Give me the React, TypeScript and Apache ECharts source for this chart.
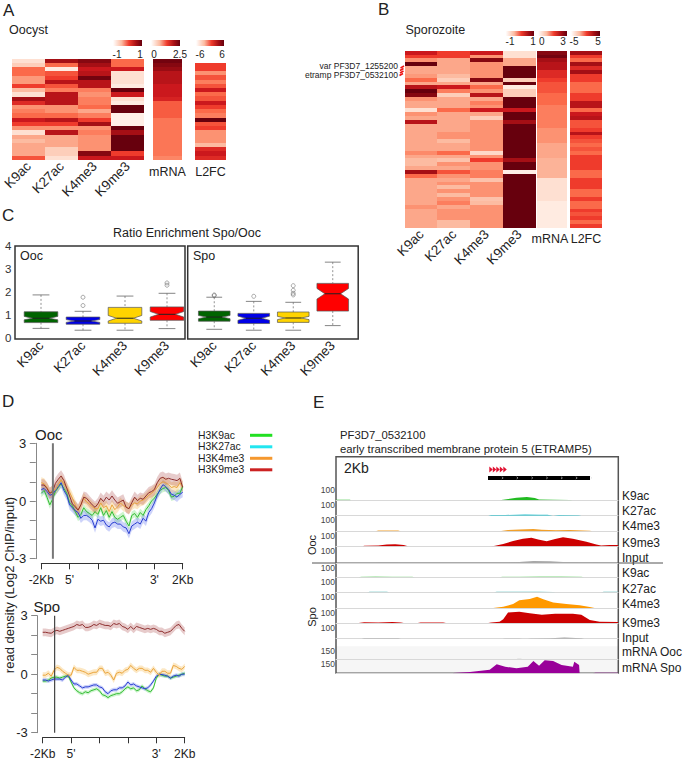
import React, { useEffect, useRef } from "react";
import * as echarts from "echarts";

const FONT = "Liberation Sans";
const REDS = ["#fff5f0", "#fee0d2", "#fcbba1", "#fc9272", "#fb6a4a", "#ef3b2c", "#cb181d", "#a50f15", "#67000d"];
const MARKS = ["K9ac", "K27ac", "K4me3", "K9me3"];

// Panel A heat values (0 pale .. 8 dark)
const aK9ac = [1, 1.5, 4, 4, 2.8, 2.8, 5, 2, 1, 7, 5.5, 3, 3.5, 4, 6, 5, 3, 1, 2.5, 2, 2.5, 2.5, 2.5, 4.5];
const aK27ac = [7, 4, 0.5, 4.5, 5, 6.5, 4.5, 3.5, 6.5, 6.5, 6.5, 3, 3, 4, 6.5, 5, 3, 6.5, 2.5, 2.5, 2.5, 1.5, 1.5, 1];
const aK4me3 = [7.5, 7, 6, 6.5, 7.8, 6.5, 6.5, 3.5, 3, 3.5, 3.5, 4, 2.5, 3.5, 5, 7, 3, 3.5, 3, 3, 3, 3, 7.5, 6];
const aK9me3 = [4, 4, 6, 1, 1, 1, 0.5, 8, 6, 1, 0.5, 8, 8, 0.3, 0.3, 0.3, 8, 7, 8, 8, 8, 8, 5, 6];
const aMrna = [7.8, 7.5, 7.2, 6.5, 6.5, 6.5, 6, 6, 6, 5.7, 4.3, 4.3, 4.3, 4.3, 3.7, 3.7, 3.7, 3.7, 3.7, 3.7, 3.7, 3.7, 3.7, 3.3];
const aL2fc = [5, 5, 3, 4.5, 3.5, 4.5, 6, 4, 4.5, 6, 5, 4, 3.5, 8, 4.5, 5, 3, 3, 3, 2, 5.5, 6, 5.5];

// Panel B heat values
const bK9ac = [6, 5, 3, 8, 2.5, 2.5, 2.8, 4, 2.5, 6.5, 8, 7.5, 3, 2.5, 2.5, 1, 3, 2.5, 6.5, 2.5, 2.5, 2.5, 2.5, 2.5, 2.5, 2.5, 3.2, 2.5, 2, 2, 2.5, 7, 4, 2.5, 2.5, 2.5, 2.5, 2.5, 2.5, 2.5, 3, 2.5, 2.5, 2.5, 2.5, 2.5];
const bK27ac = [5, 5, 2.5, 2.5, 2.5, 2.5, 2, 1.5, 2.5, 6, 3.5, 1.5, 2.5, 2.5, 2.5, 4, 2.5, 2.5, 2.5, 2.5, 2.5, 3, 3, 2, 2.5, 2.5, 4, 2.5, 1.8, 3, 2.5, 4.5, 3, 2.5, 3, 2, 3, 2, 3, 3.5, 2.5, 3, 3, 3, 2, 2];
const bK4me3 = [6, 3, 7.5, 3, 3, 3, 3, 7.5, 2.5, 4, 3, 6.5, 2.5, 3.5, 3, 6, 2.5, 1.5, 3, 3, 3, 3, 3, 3, 3, 3, 1.2, 3, 5, 3, 3, 3.5, 3.5, 1.8, 3, 3, 3, 3, 1.8, 2, 3, 3, 3, 3, 3, 3];
const bK9me3 = [1, 1, 2.5, 2.5, 8, 8, 8, 1.5, 8, 0.5, 1.5, 1.5, 8, 8, 8, 6, 8, 8, 7, 8, 8, 8, 8, 8, 8, 8, 8, 8, 7, 8, 8, 0.3, 8, 8, 8, 8, 8, 8, 8, 8, 8, 8, 8, 8, 8, 8];
const bMrna = [7.5, 7.8, 7, 6.5, 6.5, 5.5, 5.5, 5, 4.5, 4.5, 4.5, 4, 4, 4, 3.5, 3.5, 3.5, 3.5, 3.5, 3.5, 3, 3, 3, 3, 2.5, 2.5, 2.5, 2.5, 2.2, 2.2, 2.2, 2.2, 2.2, 1, 1, 1, 1, 1, 1, 0.5, 0.5, 0.5, 0.5, 0.5, 0.5, 0.5];
const bL2fc = [7, 5, 4, 7, 5.5, 7, 5, 5, 4, 4, 4, 5, 5, 6.5, 6.5, 4, 6, 6.5, 4.5, 4.5, 5, 6.5, 5, 4.5, 4, 4.5, 4, 5, 5, 5, 5, 4, 4, 5, 5, 5, 4, 4, 5, 4, 4, 5, 4.5, 5, 4, 5];

// Panel C: [whisker low, q1, median, q3, whisker high, notch low, notch high]
const boxColors = ["#006400", "#0000e6", "#ffd400", "#ff0000"];
const oocBoxes = [
  [0.43, 0.68, 0.87, 1.15, 1.88, 0.8, 0.95],
  [0.35, 0.61, 0.75, 0.92, 1.17, 0.69, 0.81],
  [0.35, 0.65, 0.87, 1.34, 1.83, 0.75, 0.99],
  [0.42, 0.78, 1.04, 1.36, 1.95, 0.92, 1.16],
];
const spoBoxes = [
  [0.39, 0.74, 0.92, 1.18, 1.78, 0.85, 0.99],
  [0.35, 0.64, 0.87, 1.08, 1.6, 0.78, 0.96],
  [0.35, 0.69, 0.88, 1.14, 1.56, 0.81, 0.95],
  [0.55, 1.18, 1.93, 2.38, 3.3, 1.7, 2.16],
];
const oocOutliers = [[1, 1.42], [1, 1.78], [3, 2.3], [3, 2.4]];
const spoOutliers = [[0, 1.85], [0, 1.88], [1, 1.82], [2, 1.88], [2, 1.95], [2, 2.08], [2, 2.28]];

// Panel D metaprofiles
const oocRed = [0.83, 0.83, 0.66, 0.4, 0.49, 0.92, 1.13, 1.3, 1.06, 0.66, 0.26, -0.15, -0.3, -0.47, -0.2, 0.2, 0.14, -0.03, -0.2, -0.33, -0.15, 0.14, -0.03, 0.2, 0.05, 0.26, 0.05, -0.12, -0.03, 0.05, -0.33, -0.4, -0.09, 0.2, 0.02, 0.14, 0.09, 0.26, 0.43, 0.49, 0.6, 0.95, 1.18, 1.23, 1.13, 1.18, 1.13, 1.1, 1.06, 1.18, 0.71];
const oocOrange = [0.95, 0.9, 0.7, 0.4, 0.55, 0.6, 0.85, 1.1, 0.9, 0.7, 0.45, 0.15, -0.2, -0.5, -0.2, 0.15, -0.05, -0.15, -0.3, -0.4, -0.4, -0.1, -0.35, -0.25, -0.55, -0.2, -0.45, -0.3, -0.1, -0.25, -0.3, -0.4, -0.2, -0.1, -0.15, 0, 0.05, 0.15, 0.3, 0.4, 0.55, 0.7, 0.9, 1.0, 0.95, 0.85, 0.7, 0.75, 0.7, 0.95, 0.75];
const oocGreen = [0.4, 0.55, 0.2, -0.2, 0.1, 0.5, 0.7, 0.9, 0.65, 0.4, -0.1, -0.25, -0.55, -0.85, -0.7, -0.35, -0.55, -0.65, -0.75, -0.55, -0.7, -0.35, -0.75, -0.5, -0.85, -0.55, -0.85, -0.95, -0.85, -0.75, -1.05, -1.3, -0.75, -0.65, -0.85, -0.6, -0.75, -0.45, -0.25, 0, 0.15, 0.35, 0.55, 0.65, 0.7, 0.55, 0.2, 0.25, 0.4, 0.4, 0.75];
const oocBlue = [0.6, 0.65, 0.5, 0.3, 0.35, 0.55, 0.75, 0.95, 0.55, 0.3, -0.2, -0.35, -0.5, -0.6, -0.9, -0.75, -0.75, -0.85, -1.0, -1.4, -0.95, -1.05, -1.0, -1.25, -1.35, -1.15, -1.1, -1.2, -1.2, -1.35, -1.4, -1.7, -1.3, -1.2, -1.1, -1.2, -0.9, -1.05, -0.6, -0.4, -0.1, 0.3, 0.6, 0.85, 0.75, 0.6, 0.35, 0.3, 0.2, 0.35, 0.45];
const spoRed = [2.15, 2.15, 2.12, 2.1, 2.2, 2.25, 2.2, 2.25, 2.3, 2.35, 2.4, 2.45, 2.55, 2.5, 2.55, 2.4, 2.4, 2.45, 2.55, 2.5, 2.6, 2.55, 2.5, 2.5, 2.45, 2.6, 2.55, 2.6, 2.45, 2.4, 2.3, 2.45, 2.3, 2.45, 2.4, 2.35, 2.3, 2.35, 2.3, 2.35, 2.3, 2.2, 2.2, 2.1, 2.15, 2.2, 2.35, 2.5, 2.55, 2.35, 2.2];
const spoOrange = [-0.05, -0.05, 0.05, -0.1, 0.2, 0.35, 0.3, 0.15, 0.05, -0.05, -0.05, 0.35, 0.2, 0.2, 0.15, 0.1, 0, 0.05, 0.1, 0.1, 0.3, 0.3, 0.05, 0.1, -0.05, -0.3, 0.05, 0.1, 0.05, 0.2, 0.25, 0.45, 0.3, 0.2, 0.3, 0.3, 0.2, 0.2, 0.1, 0.3, 0.1, -0.05, 0.15, 0.15, 0.05, 0.05, 0.45, 0.4, 0.3, 0.25, 0.4];
const spoBlue = [-0.3, -0.3, -0.35, -0.3, -0.25, -0.25, -0.25, -0.3, -0.15, -0.05, -0.3, -0.5, -0.5, -0.6, -0.7, -0.65, -0.65, -0.6, -0.55, -0.55, -0.65, -0.7, -0.9, -1.0, -0.85, -0.8, -0.8, -0.7, -0.7, -0.6, -0.4, -0.55, -0.5, -0.6, -0.65, -0.7, -0.75, -0.7, -0.55, -0.35, -0.1, 0, -0.02, -0.05, -0.1, -0.2, -0.1, -0.05, -0.1, 0, 0];
const spoGreen = [-0.35, -0.35, -0.3, -0.2, -0.15, -0.15, -0.2, -0.15, -0.1, -0.1, -0.4, -0.7, -0.85, -0.95, -1.0, -0.9, -0.95, -0.85, -0.8, -0.75, -0.85, -1.05, -1.1, -1.2, -1.1, -1.05, -1.0, -1.0, -0.9, -0.75, -0.65, -0.75, -0.7, -0.85, -0.8, -0.6, -0.75, -0.85, -0.9, -0.7, -0.2, 0, -0.05, -0.1, -0.1, -0.2, -0.15, -0.1, -0.05, 0, 0.05];
const xTickLabels = ["-2Kb", "5'", "", "", "3'", "2Kb"];
const legendNames = ["H3K9ac", "H3K27ac", "H3K4me3", "H3K9me3"];
const legendColors = ["#22e022", "#22e6f0", "#f5982e", "#cc2222"];

// Panel E browser tracks: [genome position %, signal]
const ookK9ac = [[0, 3], [5, 3], [5.2, 0], [58, 0], [60.5, 8], [64, 18], [67.7, 22], [70.5, 15], [72, 5], [77, 4], [83, 2], [84, 0]];
const ookK27ac = [[54, 0], [55, 5], [60, 5], [64, 6], [67, 8], [72, 6], [75, 6], [77, 0], [79, 4], [86, 3], [87, 0]];
const ookK4me3 = [[14, 0], [15, 5], [22, 5], [23, 0], [58, 0], [61, 8], [65, 11], [70, 14], [73, 10], [78, 7], [83, 8], [90, 4], [91, 0]];
const ookK9me3 = [[9.5, 0], [10, 3], [15, 5], [18, 12], [21, 13], [24, 8], [25.5, 0], [54.5, 0], [56, 2], [59.3, 15], [62.8, 35], [66.3, 50], [69.3, 57], [71.7, 46], [74.7, 33], [77.7, 48], [80.5, 60], [84, 50], [88.8, 30], [92.3, 12], [94, 6], [97, 9], [100, 8]];
const ookInput = [[14, 0], [15, 4], [22, 4], [23, 0], [61, 0], [66, 7], [70, 12], [76, 11], [82, 5], [90, 3], [97, 2], [98, 0]];
const spoK9ac = [[8, 0], [9, 4], [14, 6], [20, 4], [27, 4], [28, 0], [58, 0], [59, 4], [65, 4], [72, 6], [80, 6], [87, 3], [88, 0]];
const spoK27ac = [[11, 0], [12, 3], [18, 3], [19, 0], [56, 0], [57, 3], [66, 4], [72, 3], [77, 2], [78, 0], [94, 0], [95, 3], [100, 3]];
const spoK4me3 = [[55.7, 0], [59.3, 8], [62.8, 25], [65, 50], [68.7, 58], [71.3, 72], [73.5, 55], [77, 35], [81.7, 25], [86.4, 18], [90, 6], [91.7, 0]];
const spoK9me3 = [[8, 0], [10, 5], [15, 4], [20, 6], [23, 3], [24, 0], [29, 0], [30, 4], [38, 4], [39, 0], [54, 0], [55, 3], [58, 8], [59.3, 25], [61, 70], [65, 75], [68.7, 65], [73, 55], [77.7, 62], [84, 62], [87, 55], [90, 20], [93.5, 8], [100, 6]];
const spoInput = [[9, 0], [10, 3], [15, 3], [22, 3], [23, 0], [59, 0], [60, 2], [65, 2], [66, 0], [68, 0], [69, 2], [76, 3], [81, 8], [87, 3], [88, 0]];
const mrnaOoc = [[64, 0], [64.5, 3], [65.5, 3], [66, 0]];
const mrnaSpo = [[41.5, 3], [47.5, 14], [54.5, 38], [57, 95], [60, 69], [64, 52], [68, 69], [70, 130], [72, 80], [74, 138], [77, 128], [80, 87], [84, 69], [84.5, 120], [86.2, 87], [86.4, 0], [91, 0], [92, 6], [100, 6]];

const trackNames = ["K9ac", "K27ac", "K4me3", "K9me3", "Input", "K9ac", "K27ac", "K4me3", "K9me3", "Input", "mRNA Ooc", "mRNA Spo"];
const trackSeries = [ookK9ac, ookK27ac, ookK4me3, ookK9me3, ookInput, spoK9ac, spoK27ac, spoK4me3, spoK9me3, spoInput, mrnaOoc, mrnaSpo];
const trackColors = ["#22bb22", "#22bfcc", "#f2a02a", "#cc0000", "#a8a8a8", "#7fd87f", "#44b8b8", "#ff9900", "#cc0000", "#a0a0a0", "#c0c0c0", "#990099"];
const trackMax = [100, 100, 100, 100, 100, 100, 100, 100, 100, 100, 150, 150];
const trackEdges = [485.7, 500.3, 515.7, 531.3, 546.3, 563, 577.3, 592.3, 608, 623, 638.7, 659, 673.3];
const trackLabelY = [496, 510.7, 525.7, 543, 557.7, 572.7, 589.3, 604.3, 623.3, 637.7, 652.3, 667.7];

function buildOption() {
  const grid: any[] = [], xAxis: any[] = [], yAxis: any[] = [], series: any[] = [], graphic: any[] = [];
  const heatIdx: number[] = [];

  const text = (s: string, x: number, y: number, size: number, o: any = {}) =>
    graphic.push({
      type: "text", x, y, rotation: o.rotation || 0, silent: true,
      style: { text: s, fontSize: size, fontFamily: FONT, fill: o.fill || "#222", align: o.align || "left", verticalAlign: "middle" },
    });

  const addGrid = (left: number, top: number, width: number, height: number, extra: any = {}) => {
    grid.push({ left, top, width, height, containLabel: false, ...extra });
    return grid.length - 1;
  };

  const heat = (left: number, top: number, width: number, height: number, cols: string[], values: number[][], rotate: number, margin: number, padding: number[] = [0, 0, 0, 0]) => {
    const g = addGrid(left, top, width, height);
    xAxis.push({
      type: "category", gridIndex: g, data: cols, position: "bottom",
      axisLine: { show: false }, axisTick: { show: false },
      axisLabel: { rotate, margin, padding, fontSize: rotate ? 13.5 : 12.5, color: "#222", interval: 0, fontFamily: FONT },
    });
    yAxis.push({ type: "category", gridIndex: g, inverse: true, show: false, data: values[0].map((_, i) => String(i)) });
    const data: number[][] = [];
    values.forEach((col, c) => col.forEach((v, r) => data.push([c, r, v])));
    heatIdx.push(series.length);
    series.push({ type: "heatmap", xAxisIndex: g, yAxisIndex: g, data, itemStyle: { borderWidth: 0 }, silent: true });
  };

  const gradient = (x: number, y: number, w: number, h: number) =>
    graphic.push({
      type: "rect", silent: true, shape: { x, y, width: w, height: h },
      style: {
        fill: {
          type: "linear", x: 0, y: 0, x2: 1, y2: 0,
          colorStops: [
            { offset: 0, color: "#ffffff" }, { offset: 0.3, color: "#fcbba1" }, { offset: 0.55, color: "#ef3b2c" },
            { offset: 0.8, color: "#a50f15" }, { offset: 1, color: "#67000d" },
          ],
        },
      },
    });

  // --- A
  text("A", 3, 10, 17); text("Oocyst", 9, 30, 12.5);
  heat(11, 59, 133, 101, MARKS, [aK9ac, aK27ac, aK4me3, aK9me3], 45, 4);
  heat(153, 59, 29, 101, ["mRNA"], [aMrna], 0, 5);
  heat(195.5, 63, 30, 97, ["L2FC"], [aL2fc], 0, 5);
  gradient(113, 40, 29, 6); gradient(151, 40, 29, 6); gradient(196, 40, 28, 6);
  [["-1", 117], ["1", 140], ["0", 154], ["2.5", 180], ["-6", 200], ["6", 222]].forEach(([s, x]) => text(s as string, x as number, 54, 10, { align: "center" }));

  // --- B
  text("B", 378, 9, 17); text("Sporozoite", 405.5, 30, 12.5);
  heat(405, 51, 130.7, 177, MARKS, [bK9ac, bK27ac, bK4me3, bK9me3], 45, 4);
  heat(537.7, 51, 29.5, 177, ["mRNA"], [bMrna], 0, 4, [0, 5, 0, 0]);
  heat(570, 51, 32, 177, ["L2FC"], [bL2fc], 0, 4);
  gradient(505.7, 30.5, 28.5, 5.5); gradient(538, 30.5, 29, 5.5); gradient(571, 30.5, 28.5, 5.5);
  [["-1", 510], ["1", 533], ["0", 541.7], ["3", 563], ["-5", 574], ["5", 598]].forEach(([s, x]) => text(s as string, x as number, 41, 10, { align: "center" }));
  text("var PF3D7_1255200", 398, 65.7, 8.5, { align: "right" });
  text("etramp PF3D7_0532100", 398, 75, 8.5, { align: "right" });
  [[67, 400.5], [69.5, 400], [72, 400], [74.5, 399.5]].forEach(([y, x]) =>
    graphic.push({ type: "line", silent: true, shape: { x1: x, y1: y + 1, x2: x + 3.5, y2: y - 1 }, style: { stroke: "#ee1111", lineWidth: 1.5 } }));

  // --- C
  text("C", 2, 215, 17);
  text("Ratio Enrichment Spo/Ooc", 187, 233, 12.5, { align: "center" });
  const boxPanel = (left: number, width: number, name: string, boxes: number[][], outliers: number[][], showY: boolean) => {
    const g = addGrid(left, 246, width, 92.3);
    xAxis.push({
      type: "category", gridIndex: g, data: MARKS,
      axisLine: { show: false }, axisTick: { show: false },
      axisLabel: { rotate: 45, margin: 5, fontSize: 13.5, color: "#222", interval: 0, fontFamily: FONT },
    });
    yAxis.push({
      type: "value", gridIndex: g, min: 0, max: 4, interval: 1, show: showY,
      splitLine: { show: false }, axisLine: { show: false }, axisTick: { show: false },
      axisLabel: { margin: 8.5, fontSize: 11.5, color: "#333", fontFamily: FONT, verticalAlign: "middle" },
    });
    series.push({
      type: "custom", xAxisIndex: g, yAxisIndex: g, silent: true,
      data: boxes.map((b, i) => [i, ...b]),
      encode: { x: 0, y: [1, 2, 3, 4, 5] },
      renderItem: (_: any, api: any) => {
        const i = api.value(0);
        const lo = api.coord([i, api.value(1)]), q1 = api.coord([i, api.value(2)]), md = api.coord([i, api.value(3)]);
        const q3 = api.coord([i, api.value(4)]), hi = api.coord([i, api.value(5)]);
        const nl = api.coord([i, api.value(6)]), nh = api.coord([i, api.value(7)]);
        const w = api.size([1, 0])[0] * 0.4, inner = w * 0.5, cap = w * 0.5;
        const x = md[0];
        const edge = { stroke: "#555", lineWidth: 0.7 };
        const wh = { stroke: "#666", lineWidth: 0.7, lineDash: [2, 2] };
        const capSt = { stroke: "#666", lineWidth: 0.8 };
        return {
          type: "group",
          children: [
            { type: "line", shape: { x1: x, y1: hi[1], x2: x, y2: q3[1] }, style: wh },
            { type: "line", shape: { x1: x, y1: q1[1], x2: x, y2: lo[1] }, style: wh },
            { type: "line", shape: { x1: x - cap, y1: hi[1], x2: x + cap, y2: hi[1] }, style: capSt },
            { type: "line", shape: { x1: x - cap, y1: lo[1], x2: x + cap, y2: lo[1] }, style: capSt },
            {
              type: "polygon",
              shape: { points: [[x - w, q3[1]], [x + w, q3[1]], [x + w, nh[1]], [x + inner, md[1]], [x + w, nl[1]], [x + w, q1[1]], [x - w, q1[1]], [x - w, nl[1]], [x - inner, md[1]], [x - w, nh[1]]] },
              style: { fill: boxColors[i], ...edge },
            },
            { type: "line", shape: { x1: x - inner, y1: md[1], x2: x + inner, y2: md[1] }, style: { stroke: "#222", lineWidth: 1 } },
          ],
        };
      },
    });
    series.push({
      type: "scatter", xAxisIndex: g, yAxisIndex: g, silent: true, symbolSize: 4, data: outliers,
      itemStyle: { color: "rgba(255,255,255,0)", borderColor: "#666", borderWidth: 0.7 },
    });
    return name;
  };
  boxPanel(20, 168, "Ooc", oocBoxes, oocOutliers, true);
  boxPanel(194.5, 158, "Spo", spoBoxes, spoOutliers, false);
  graphic.push({ type: "rect", silent: true, shape: { x: 15, y: 246, width: 170, height: 93 }, style: { fill: "none", stroke: "#333", lineWidth: 1.5 } });
  graphic.push({ type: "rect", silent: true, shape: { x: 187.7, y: 246, width: 170.5, height: 93 }, style: { fill: "none", stroke: "#333", lineWidth: 1.5 } });
  text("Ooc", 20, 256, 12.5); text("Spo", 193, 256, 12.5);

  // --- D
  text("D", 2, 401, 17);
  text("read density (Log2 ChIP/input)", 9, 585, 13, { rotation: Math.PI / 2, align: "center" });
  const profile = (left: number, top: number, width: number, height: number, lines: { v: number[]; c: string; b: string; w: number }[], vx: number, vCol: string, vW: number) => {
    const g = addGrid(left, top, width, height);
    xAxis.push({
      type: "value", gridIndex: g, min: 0, max: 50, interval: 10, offset: 4.6,
      splitLine: { show: false }, axisLine: { onZero: false, lineStyle: { color: "#333", width: 1 } },
      axisTick: { length: 6, inside: false, lineStyle: { color: "#333" } },
      axisLabel: { margin: 11, fontSize: 12, color: "#222", fontFamily: FONT, formatter: (v: number) => xTickLabels[v / 10] ?? "" },
    });
    yAxis.push({
      type: "value", gridIndex: g, min: -3, max: 3, interval: 1, offset: 5.5,
      splitLine: { show: false }, axisLine: { show: true, onZero: false, lineStyle: { color: "#888" } },
      axisTick: { length: 6, lineStyle: { color: "#888" } },
      axisLabel: { margin: 9.5, fontSize: 13, color: "#222", fontFamily: FONT, formatter: (v: number) => (v === 3 || v === 0 || v === -3 ? String(v) : "") },
    });
    lines.forEach((l) => {
      series.push({
        type: "custom", xAxisIndex: g, yAxisIndex: g, silent: true, data: [[0, 0]],
        renderItem: (_: any, api: any) => {
          const up = l.v.map((y, i) => api.coord([i, y + l.w]));
          const dn = l.v.map((y, i) => api.coord([i, y - l.w])).reverse();
          return { type: "polygon", shape: { points: [...up, ...dn] }, style: { fill: l.b } };
        },
      });
    });
    lines.forEach((l) => {
      series.push({
        type: "line", xAxisIndex: g, yAxisIndex: g, silent: true, showSymbol: false,
        data: l.v.map((y, i) => [i, y]), lineStyle: { color: l.c, width: 1 },
      });
    });
    series.push({
      type: "line", xAxisIndex: g, yAxisIndex: g, silent: true, showSymbol: false,
      data: [[vx, -3], [vx, 3]], lineStyle: { color: vCol, width: vW },
    });
  };
  const C_RED = "#8e2f2f", C_OR = "#e9a43c", C_GR = "#33bb33", C_BL = "#2a3fd0";
  const B_RED = "rgba(170,70,70,0.28)", B_OR = "rgba(245,190,90,0.35)", B_GR = "rgba(90,220,90,0.3)", B_BL = "rgba(90,110,240,0.3)";
  profile(41.3, 443.3, 141.4, 115.4, [
    { v: oocGreen, c: C_GR, b: B_GR, w: 0.2 },
    { v: oocBlue, c: C_BL, b: B_BL, w: 0.25 },
    { v: oocOrange, c: C_OR, b: B_OR, w: 0.28 },
    { v: oocRed, c: C_RED, b: B_RED, w: 0.3 },
  ], 4.1, "#777", 2);
  profile(42.7, 615.7, 142, 117, [
    { v: spoGreen, c: C_GR, b: B_GR, w: 0.1 },
    { v: spoBlue, c: C_BL, b: B_BL, w: 0.1 },
    { v: spoOrange, c: C_OR, b: B_OR, w: 0.15 },
    { v: spoRed, c: C_RED, b: B_RED, w: 0.2 },
  ], 4.2, "#444", 1.2);
  text("Ooc", 35, 434.5, 15); text("Spo", 33.5, 606.5, 15);
  legendNames.forEach((n, i) => {
    const y = 435.3 + i * 11.5;
    text(n, 198, y, 10.4);
    graphic.push({ type: "line", silent: true, shape: { x1: 250, y1: y, x2: 272.3, y2: y }, style: { stroke: legendColors[i], lineWidth: 3 } });
  });

  // --- E
  text("E", 313, 402, 17);
  text("PF3D7_0532100", 340, 435, 11.3);
  text("early transcribed membrane protein 5 (ETRAMP5)", 340, 449, 11.3);
  text("2Kb", 344, 468, 14);
  trackSeries.forEach((d, i) => {
    const isRna = i >= 10;
    const top = i === 10 ? 646.3 : trackEdges[i];
    const g = addGrid(336, top, 282, trackEdges[i + 1] - top, isRna ? { show: true, backgroundColor: "#f6f6f6", borderWidth: 0 } : {});
    xAxis.push({
      type: "value", gridIndex: g, min: 0, max: 100,
      splitLine: { show: false }, axisTick: { show: false }, axisLabel: { show: false },
      axisLine: { show: true, lineStyle: { color: "#d8d8d8", width: 1 } },
    });
    yAxis.push({
      type: "value", gridIndex: g, min: 0, max: trackMax[i], interval: trackMax[i], splitLine: { show: false },
      axisLine: { show: false }, axisTick: { show: false },
      axisLabel: {
        showMinLabel: false, margin: 1, fontSize: 8.5, color: "#444", fontFamily: FONT, verticalAlign: "top",
        formatter: (v: number) => (v === trackMax[i] ? String(v) : ""),
      },
    });
    series.push({
      type: "line", xAxisIndex: g, yAxisIndex: g, silent: true, showSymbol: false, data: d,
      lineStyle: { width: 0, color: trackColors[i] }, itemStyle: { color: trackColors[i] },
      areaStyle: { color: trackColors[i], opacity: 1 },
    });
    text(trackNames[i], 622, trackLabelY[i], 12);
  });
  graphic.push({ type: "rect", silent: true, shape: { x: 336, y: 456.7, width: 282.3, height: 216.6 }, style: { fill: "none", stroke: "#555", lineWidth: 1.5 } });
  graphic.push({ type: "line", silent: true, shape: { x1: 312, y1: 563, x2: 663, y2: 563 }, style: { stroke: "#555", lineWidth: 1 } });
  text("Ooc", 311.5, 545, 11, { rotation: Math.PI / 2, align: "center" });
  text("Spo", 311.5, 617, 11, { rotation: Math.PI / 2, align: "center" });
  // gene model
  graphic.push({ type: "rect", silent: true, shape: { x: 487.7, y: 475.7, width: 102.3, height: 4.4 }, style: { fill: "#000" } });
  [1, 2, 3, 4, 5, 6, 7].forEach((k) => {
    const x = 487.7 + k * 14.8;
    graphic.push({ type: "polyline", silent: true, shape: { points: [[x - 0.7, 476.8], [x + 0.7, 477.9], [x - 0.7, 479]] }, style: { stroke: "#ddd", fill: "none", lineWidth: 0.6 } });
  });
  [0, 1, 2, 3, 4].forEach((k) => {
    const x = 489.3 + k * 3.5;
    graphic.push({ type: "polygon", silent: true, shape: { points: [[x, 466.5], [x + 3.5, 469.5], [x, 472.5]] }, style: { fill: "#e01030" } });
  });

  return {
    animation: false,
    backgroundColor: "#fff",
    textStyle: { fontFamily: FONT },
    grid, xAxis, yAxis, series, graphic,
    visualMap: [{ show: false, type: "continuous", min: 0, max: 8, seriesIndex: heatIdx, inRange: { color: REDS } }],
  };
}

export default function App() {
  const ref = useRef<HTMLDivElement>(null);
  useEffect(() => {
    document.body.style.margin = "0";
    const chart = echarts.init(ref.current!, undefined, { renderer: "svg" });
    chart.setOption(buildOption() as any);
    // heat cells have fractional heights: keep neighbouring rows free of hairline seams
    ref.current!.querySelectorAll("svg path").forEach((p: any) => {
      const b = p.getBBox();
      const corners = (p.getAttribute("d") || "").split("L").length;
      if (b.height >= 3 && b.height < 6 && b.width >= 20 && corners <= 5 && p.getAttribute("fill") !== "none") p.setAttribute("shape-rendering", "crispEdges");
    });
    return () => chart.dispose();
  }, []);
  return <div ref={ref} style={{ width: 685, height: 761 }} />;
}
